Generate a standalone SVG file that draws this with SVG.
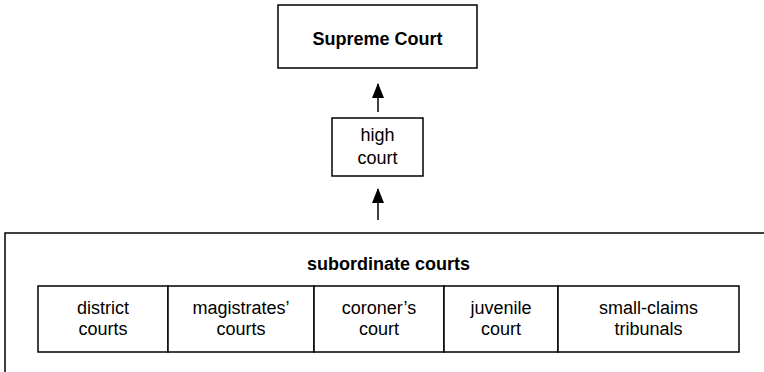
<svg xmlns="http://www.w3.org/2000/svg" width="764" height="372" viewBox="0 0 764 372">
<defs>
<style>
.box{fill:#fff;stroke:#000;stroke-width:1.5}
.t{font-family:"Liberation Sans",Arial,Helvetica,sans-serif;font-size:18px;fill:#000;text-anchor:middle}
.b{font-weight:bold}
.ln{stroke:#000;stroke-width:1.5;fill:none}
</style>
<marker id="ah" viewBox="0 0 15 12" refX="14" refY="6" markerWidth="15" markerHeight="12" markerUnits="userSpaceOnUse" orient="auto">
<path d="M0,0 L15,6 L0,12 Z" fill="#000"/>
</marker>
</defs>
<rect width="764" height="372" fill="#fff"/>
<g id="connectors">
<line class="ln" x1="378" y1="112" x2="378" y2="84" marker-end="url(#ah)"/>
<line class="ln" x1="378" y1="220" x2="378" y2="189" marker-end="url(#ah)"/>
</g>
<g id="supreme">
<rect class="box" x="278" y="5" width="199" height="63"/>
<text class="t b" x="377.5" y="45">Supreme Court</text>
</g>
<g id="high">
<rect class="box" x="332" y="118" width="91" height="58"/>
<text class="t" x="377.5" y="141">high</text>
<text class="t" x="377.5" y="164">court</text>
</g>
<g id="subordinate">
<rect class="box" x="5" y="233" width="800" height="200"/>
<text class="t b" x="388.5" y="270">subordinate courts</text>
</g>
<g id="district">
<rect class="box" x="38" y="286" width="130" height="66"/>
<text class="t" x="103" y="314">district</text>
<text class="t" x="103" y="335">courts</text>
</g>
<g id="magistrates">
<rect class="box" x="168" y="286" width="146" height="66"/>
<text class="t" x="241" y="314">magistrates’</text>
<text class="t" x="241" y="335">courts</text>
</g>
<g id="coroner">
<rect class="box" x="314" y="286" width="130" height="66"/>
<text class="t" x="379" y="314">coroner’s</text>
<text class="t" x="379" y="335">court</text>
</g>
<g id="juvenile">
<rect class="box" x="444" y="286" width="114" height="66"/>
<text class="t" x="501" y="314">juvenile</text>
<text class="t" x="501" y="335">court</text>
</g>
<g id="smallclaims">
<rect class="box" x="558" y="286" width="181" height="66"/>
<text class="t" x="648.5" y="314">small-claims</text>
<text class="t" x="648.5" y="335">tribunals</text>
</g>
</svg>
